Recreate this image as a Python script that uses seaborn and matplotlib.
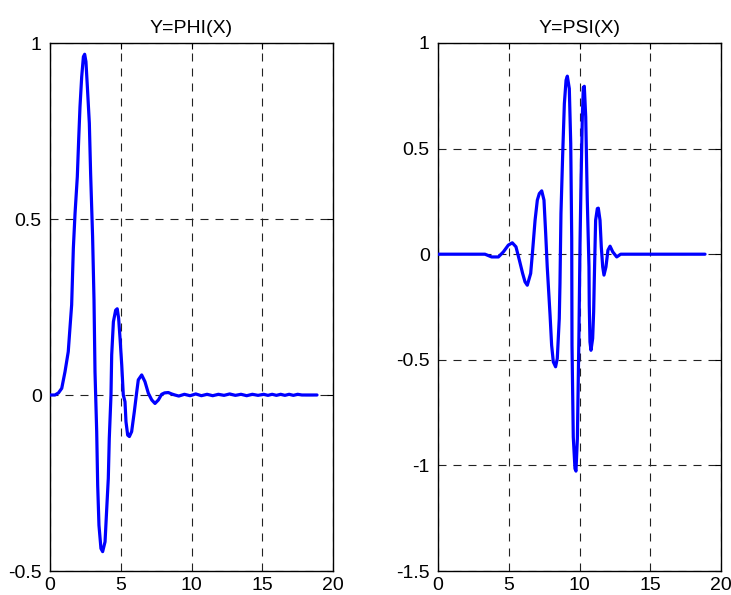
import matplotlib
matplotlib.use("Agg")
import matplotlib.pyplot as plt
import seaborn as sns
import pandas as pd

# Scaling function phi(x)
phi_x = [0.0, 0.35, 0.6, 0.83, 1.06, 1.29, 1.41, 1.53, 1.65, 1.77, 1.93, 2.03, 2.12, 2.24,
         2.36, 2.45, 2.54, 2.64, 2.78, 2.87, 3.01, 3.11, 3.18, 3.30, 3.37, 3.46, 3.60, 3.72,
         3.89, 4.00, 4.12, 4.19, 4.31, 4.36, 4.48, 4.64, 4.75, 4.85, 4.95, 5.07, 5.18, 5.30,
         5.37, 5.49, 5.61, 5.77, 5.96, 6.13, 6.24, 6.48, 6.71, 6.95, 7.19, 7.42, 7.66, 7.89,
         8.10, 8.36, 8.60, 8.83, 9.10, 9.50, 9.90, 10.30, 10.70, 11.10, 11.50, 11.90, 12.30,
         12.70, 13.10, 13.50, 13.90, 14.30, 14.70, 15.10, 15.40, 15.70, 16.00, 16.30, 16.60,
         16.90, 17.20, 17.50, 17.80, 18.10, 18.40, 18.87]
phi_y = [0.0, 0.0, 0.006, 0.019, 0.066, 0.123, 0.19, 0.256, 0.417, 0.516, 0.62, 0.729, 0.819,
         0.904, 0.961, 0.968, 0.947, 0.876, 0.772, 0.63, 0.45, 0.27, 0.066, -0.104, -0.256,
         -0.37, -0.436, -0.445, -0.417, -0.33, -0.237, -0.123, 0.0, 0.114, 0.208, 0.241, 0.245,
         0.218, 0.161, 0.085, 0.0, -0.019, -0.076, -0.114, -0.118, -0.104, -0.047, 0.009, 0.043,
         0.057, 0.038, 0.005, -0.014, -0.024, -0.014, 0.002, 0.006, 0.007, 0.003, 0.0, -0.003,
         0.002, -0.002, 0.003, -0.002, 0.002, -0.002, 0.002, -0.001, 0.003, -0.001, 0.002,
         -0.002, 0.002, -0.001, 0.002, -0.001, 0.002, -0.001, 0.002, -0.001, 0.002, -0.001,
         0.002, 0.0, 0.0, 0.0, 0.0]

# Wavelet function psi(x)
psi_x = [0.0, 3.32, 3.79, 4.27, 4.62, 4.97, 5.25, 5.51, 5.75, 5.98, 6.15, 6.31, 6.55, 6.69,
         6.86, 7.02, 7.16, 7.33, 7.49, 7.61, 7.72, 7.92, 8.03, 8.15, 8.31, 8.43, 8.57, 8.62,
         8.69, 8.81, 8.93, 9.05, 9.14, 9.28, 9.38, 9.45, 9.47, 9.56, 9.68, 9.75, 9.85, 9.96,
         10.04, 10.11, 10.20, 10.27, 10.34, 10.44, 10.55, 10.67, 10.69, 10.74, 10.81, 10.93,
         11.00, 11.05, 11.14, 11.26, 11.33, 11.45, 11.54, 11.64, 11.73, 11.87, 12.01, 12.16,
         12.35, 12.63, 12.91, 18.87]
psi_y = [0.0, 0.0, -0.013, -0.013, 0.011, 0.043, 0.054, 0.035, -0.028, -0.091, -0.131,
         -0.147, -0.091, 0.019, 0.161, 0.256, 0.287, 0.30, 0.256, 0.098, -0.06, -0.289,
         -0.431, -0.51, -0.533, -0.494, -0.305, -0.139, 0.193, 0.469, 0.713, 0.824, 0.843,
         0.784, 0.524, 0.074, -0.431, -0.865, -1.015, -1.027, -0.873, -0.384, 0.066, 0.35,
         0.65, 0.789, 0.795, 0.65, 0.256, -0.06, -0.241, -0.415, -0.455, -0.399, -0.273,
         -0.107, 0.161, 0.216, 0.218, 0.161, 0.035, -0.06, -0.099, -0.06, 0.019, 0.038, 0.011,
         -0.013, 0.0, 0.0]

titles = ["Y=PHI(X)", "Y=PSI(X)"]
x_ticks = [0, 5, 10, 15, 20]
phi_yticks = [-0.5, 0, 0.5, 1]
psi_yticks = [-1.5, -1, -0.5, 0, 0.5, 1]

sns.set_theme(style="white")
plt.rcParams["font.family"] = ["Liberation Sans", "DejaVu Sans"]

W, H = 731, 595
fig = plt.figure(figsize=(W / 100, H / 100), dpi=100)
ax1 = fig.add_axes([50 / W, 24 / H, 283 / W, 528 / H])
ax2 = fig.add_axes([438 / W, 24 / H, 283 / W, 528 / H])

panels = [
    (ax1, phi_x, phi_y, (-0.5, 1), phi_yticks),
    (ax2, psi_x, psi_y, (-1.5, 1), psi_yticks),
]

for (ax, xs, ys, ylim, yt), title in zip(panels, titles):
    df = pd.DataFrame({"x": xs, "y": ys})
    sns.lineplot(data=df, x="x", y="y", ax=ax, color="#0000ff", linewidth=2.3,
                 estimator=None, sort=False)
    for ln in ax.lines:
        ln.set_zorder(5)
    ax.set_axisbelow(True)
    ax.set_xlim(0, 20)
    ax.set_ylim(*ylim)
    ax.set_xticks(x_ticks)
    ax.set_yticks(yt)
    ax.set_xticklabels([f"{t:g}" for t in x_ticks])
    ax.set_yticklabels([f"{t:g}" for t in yt])
    ax.set_xlabel("")
    ax.set_ylabel("")
    ax.grid(True, color="#222222", linestyle=(0, (7.2, 6.3)), linewidth=0.8)
    ax.tick_params(direction="in", length=4.3, width=0.8, top=True, right=True,
                   labelsize=14, colors="black", pad=6)
    ax.tick_params(axis="x", pad=4)
    for s in ax.spines.values():
        s.set_color("black")
        s.set_linewidth(1.0)
    ax.set_title(title, fontsize=14, pad=7, color="black")

fig.savefig("out.png", dpi=100, facecolor="white")
